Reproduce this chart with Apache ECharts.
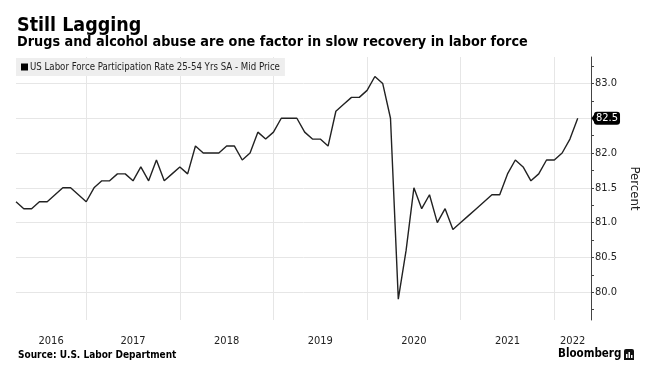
<!DOCTYPE html>
<html><head><meta charset="utf-8">
<script src="https://cdn.jsdelivr.net/npm/echarts@6/dist/echarts.min.js"></script>
<style>html,body{margin:0;padding:0;background:#fff}#c{width:651px;height:382px}</style>
</head><body><div id="c"></div>
<script>
const titleText = 'Still Lagging';
const subtitleText = 'Drugs and alcohol abuse are one factor in slow recovery in labor force';
const seriesName = 'US Labor Force Participation Rate 25-54 Yrs SA - Mid Price';
const sourceText = 'Source: U.S. Labor Department';
const axisName = 'Percent';
const firstYear = 2016;
const firstMonth = 3; // March 2016, month-end observations
const values2016 = [81.3, 81.2, 81.2, 81.3, 81.3, 81.4, 81.5, 81.5, 81.4, 81.3];
const values2017 = [81.5, 81.6, 81.6, 81.7, 81.7, 81.6, 81.8, 81.6, 81.9, 81.6, 81.7, 81.8];
const values2018 = [81.7, 82.1, 82.0, 82.0, 82.0, 82.1, 82.1, 81.9, 82.0, 82.3, 82.2, 82.3];
const values2019 = [82.5, 82.5, 82.5, 82.3, 82.2, 82.2, 82.1, 82.6, 82.7, 82.8, 82.8, 82.9];
const values2020 = [83.1, 83.0, 82.5, 79.9, 80.6, 81.5, 81.2, 81.4, 81.0, 81.2, 80.9, 81.0];
const values2021 = [81.1, 81.2, 81.3, 81.4, 81.4, 81.7, 81.9, 81.8, 81.6, 81.7, 81.9, 81.9];
const values2022 = [82.0, 82.2, 82.5];
const yearLabels = ['2016', '2017', '2018', '2019', '2020', '2021', '2022'];
const yTickLabels = [80.0, 80.5, 81.0, 81.5, 82.0, 82.5, 83.0];
const yMinorTicks = [79.75, 80.25, 80.75, 81.25, 81.75, 82.25, 82.75, 83.25];

const values = [].concat(values2016, values2017, values2018, values2019, values2020, values2021, values2022);
const data = values.map((v, i) => [firstMonth + i, v]);
const xMin = firstMonth;
const xMax = 76.7;
const yMin = 79.6, yMax = 83.38;
const yearStarts = yearLabels.slice(1).map(y => (Number(y) - firstYear) * 12);
const yearMids = yearLabels.map(y => {
  const s = Math.max((Number(y) - firstYear) * 12, xMin);
  const e = Math.min((Number(y) - firstYear + 1) * 12, xMax);
  return (s + e) / 2;
});
const allTicks = yTickLabels.concat(yMinorTicks).sort((a, b) => a - b);
const last = values[values.length - 1];
const FONT = 'DejaVu Sans Condensed';

const chart = echarts.init(document.getElementById('c'), null, {renderer: 'canvas'});
const baseGraphics = [
  {type: 'text', left: 18, top: 350, style: {text: sourceText, fontFamily: FONT, fontSize: 10, fontWeight: 'bold', fill: '#000'}},
  {type: 'text', left: 558, top: 348, style: {text: 'Bloomberg', fontFamily: FONT, fontSize: 11.5, fontWeight: 'bold', fill: '#000'}},
  {type: 'rect', left: 624, top: 349, shape: {width: 10, height: 11, r: [2, 2, 0, 0]}, style: {fill: '#111'}},
  {type: 'rect', left: 626, top: 354, shape: {width: 1.5, height: 4}, style: {fill: '#fff'}},
  {type: 'rect', left: 628.5, top: 352, shape: {width: 1.5, height: 6}, style: {fill: '#fff'}},
  {type: 'rect', left: 631, top: 355, shape: {width: 1.5, height: 3}, style: {fill: '#fff'}}
];
chart.setOption({
  animation: false,
  backgroundColor: '#fff',
  textStyle: {fontFamily: FONT},
  title: [
    {text: titleText, left: 12, top: 11, textStyle: {fontFamily: FONT, fontSize: 19.5, fontWeight: 'bold', color: '#000'}},
    {text: subtitleText, left: 12, top: 30, textStyle: {fontFamily: FONT, fontSize: 14.3, fontWeight: 'bold', color: '#000'}}
  ],
  legend: {
    left: 16, top: 58, padding: [4, 5, 4, 5],
    backgroundColor: '#eeeeee',
    icon: 'rect', itemWidth: 7, itemHeight: 7, itemGap: 4,
    textStyle: {fontFamily: FONT, fontSize: 9.6, color: '#222', padding: [0, 0, 0, -3]},
    data: [{name: seriesName, itemStyle: {color: '#000'}}]
  },
  grid: {left: 16, right: 60, top: 57, bottom: 62, containLabel: false},
  axisPointer: {triggerOn: 'none'},
  xAxis: [
    {
      type: 'value', min: xMin, max: xMax, position: 'bottom',
      axisLine: {show: false}, axisTick: {show: false},
      splitLine: {show: false},
      axisLabel: {customValues: yearMids, margin: 16, color: '#222', fontSize: 11, fontFamily: FONT,
        formatter: v => String(firstYear + Math.floor(v / 12))}
    },
    {
      type: 'value', min: xMin, max: xMax, position: 'top',
      axisLine: {show: false}, axisTick: {show: false, customValues: yearStarts}, axisLabel: {show: false},
      splitLine: {show: true, lineStyle: {color: '#e6e6e6', width: 1}}
    }
  ],
  yAxis: [
    {
      type: 'value', min: yMin, max: yMax, position: 'right',
      axisLine: {show: true, lineStyle: {color: '#444', width: 1}},
      axisTick: {show: true, inside: false, length: 3, customValues: allTicks, lineStyle: {color: '#444'}},
      axisLabel: {customValues: yTickLabels, margin: 4, color: '#222', fontSize: 11, fontFamily: FONT,
        formatter: v => v.toFixed(1)},
      splitLine: {show: false},
      name: axisName, nameLocation: 'middle', nameRotate: -90, nameGap: 31,
      nameTextStyle: {fontFamily: FONT, fontSize: 13, color: '#222'},
      axisPointer: {
        show: true, value: last, status: 'show', type: 'none', triggerTooltip: false,
        label: {show: true, backgroundColor: '#000', color: '#fff', fontFamily: FONT, fontSize: 11,
          padding: [1, 2, 1, 2], margin: 3, formatter: p => Number(p.value).toFixed(1)},
        handle: {show: false}
      }
    },
    {
      type: 'value', min: yMin, max: yMax, position: 'left',
      axisLine: {show: false}, axisTick: {show: false, customValues: yTickLabels}, axisLabel: {show: false},
      splitLine: {show: true, lineStyle: {color: '#e6e6e6', width: 1}}
    }
  ],
  series: [{
    name: seriesName, type: 'line', xAxisIndex: 0, yAxisIndex: 0,
    data: data, showSymbol: false, symbol: 'none',
    lineStyle: {color: '#222', width: 1.4},
    itemStyle: {color: '#000'}
  }],
  graphic: baseGraphics
});
// small pointer notch of the last-value tag, placed through the axis scale
const tagPt = chart.convertToPixel({xAxisIndex: 0, yAxisIndex: 0}, [xMax, last]);
chart.setOption({
  graphic: baseGraphics.concat([{
    type: 'polygon',
    shape: {points: [[tagPt[0] + 0.5, tagPt[1]], [tagPt[0] + 4, tagPt[1] - 5], [tagPt[0] + 4, tagPt[1] + 5]]},
    style: {fill: '#000'}, z: 100
  }])
});
</script>
</body></html>
